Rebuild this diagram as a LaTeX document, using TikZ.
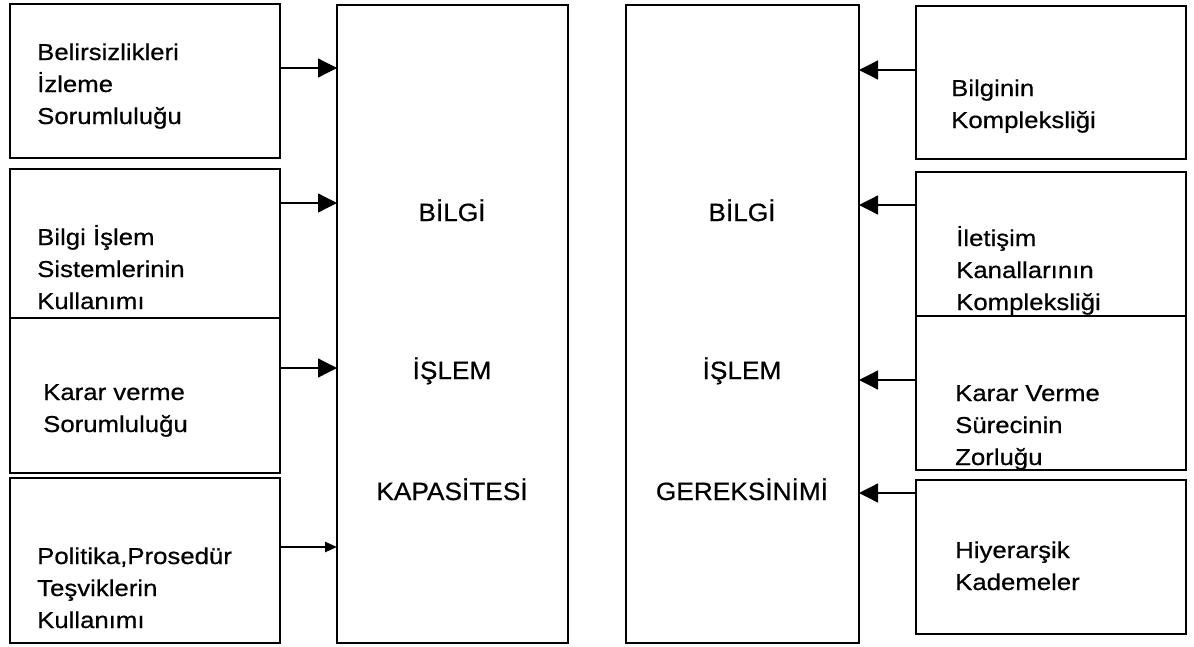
\documentclass[tikz,border=0pt]{standalone}
\usepackage{fontspec}
\setmainfont{Liberation Sans}[FakeStretch=1.12, FakeBold=0.6]
\newfontfamily\bigfont{Liberation Sans}[FakeStretch=1.05, FakeBold=0.6]
\usetikzlibrary{arrows.meta}

\tikzset{
  box/.style={draw, line width=1.6pt, inner sep=0pt, outer sep=0pt, anchor=north west},
  txt/.style={align=left, anchor=base west, inner sep=0pt, font=\fontsize{23}{32}\selectfont},
  bigtxt/.style={anchor=base, inner sep=0pt, font=\bigfont\fontsize{25}{28}\selectfont},
  arr/.style={line width=1.3pt, -{Triangle[length=19pt,width=19pt]}},
  arrthin/.style={line width=2.4pt, -{Triangle[length=12pt,width=10pt]}}
}

\begin{document}
\begin{tikzpicture}[x=1pt, y=-1pt]
\useasboundingbox (0,0) rectangle (1194,646);
% left column
\node[box, minimum width=270pt, minimum height=154pt] (l1) at (10,4) {};
\node[box, minimum width=270pt, minimum height=149pt] (l2) at (10,169) {};
\node[box, minimum width=270pt, minimum height=155pt] (l3) at (10,318) {};
\node[box, minimum width=270pt, minimum height=165pt] (l4) at (10,478) {};
% the two big blocks
\node[box, minimum width=231pt, minimum height=638pt] (cap) at (337,5) {};
\node[box, minimum width=233pt, minimum height=638pt] (req) at (626,5) {};
% right column
\node[box, minimum width=270pt, minimum height=153pt] (r1) at (916,6) {};
\node[box, minimum width=270pt, minimum height=144pt] (r2) at (916,172) {};
\node[box, minimum width=270pt, minimum height=154pt] (r3) at (916,316) {};
\node[box, minimum width=270pt, minimum height=154pt] (r4) at (916,480) {};

% labels, left (placed by the baseline of the last line)
\node[txt] (tl1) at (37,124) {Belirsizlikleri\\İzleme\\Sorumluluğu};
\node[txt] (tl2) at (37,309) {Bilgi İşlem\\Sistemlerinin\\Kullanımı};
\node[txt] (tl3) at (43,432) {Karar verme\\Sorumluluğu};
\node[txt] (tl4) at (37,628) {Politika,Prosedür\\Teşviklerin\\Kullanımı};
% labels, middle
\node[bigtxt] (c1) at (452,221) {BİLGİ};
\node[bigtxt] (c2) at (452,379) {İŞLEM};
\node[bigtxt] (c3) at (452,500) {KAPASİTESİ};
\node[bigtxt] (q1) at (742,221) {BİLGİ};
\node[bigtxt] (q2) at (742,379) {İŞLEM};
\node[bigtxt] (q3) at (742,500) {GEREKSİNİMİ};
% labels, right
\node[txt] (tr1) at (951,128) {Bilginin\\Kompleksliği};
\node[txt] (tr2) at (956,310) {İletişim\\Kanallarının\\Kompleksliği};
\node[txt] (tr3) at (955,465) {Karar Verme\\Sürecinin\\Zorluğu};
\node[txt] (tr4) at (955,590) {Hiyerarşik\\Kademeler};

% arrows into the blocks
\draw[arr] (l1.east |- 0,68) -- (cap.west |- 0,68);
\draw[arr] (l2.east |- 0,203) -- (cap.west |- 0,203);
\draw[arr] (l3.east |- 0,368) -- (cap.west |- 0,368);
\draw[arrthin] (l4.east |- 0,547) -- (cap.west |- 0,547);
\draw[arr] (r1.west |- 0,70) -- (req.east |- 0,70);
\draw[arr] (r2.west |- 0,205) -- (req.east |- 0,205);
\draw[arr] (r3.west |- 0,380) -- (req.east |- 0,380);
\draw[arr] (r4.west |- 0,493) -- (req.east |- 0,493);
\end{tikzpicture}
\end{document}
